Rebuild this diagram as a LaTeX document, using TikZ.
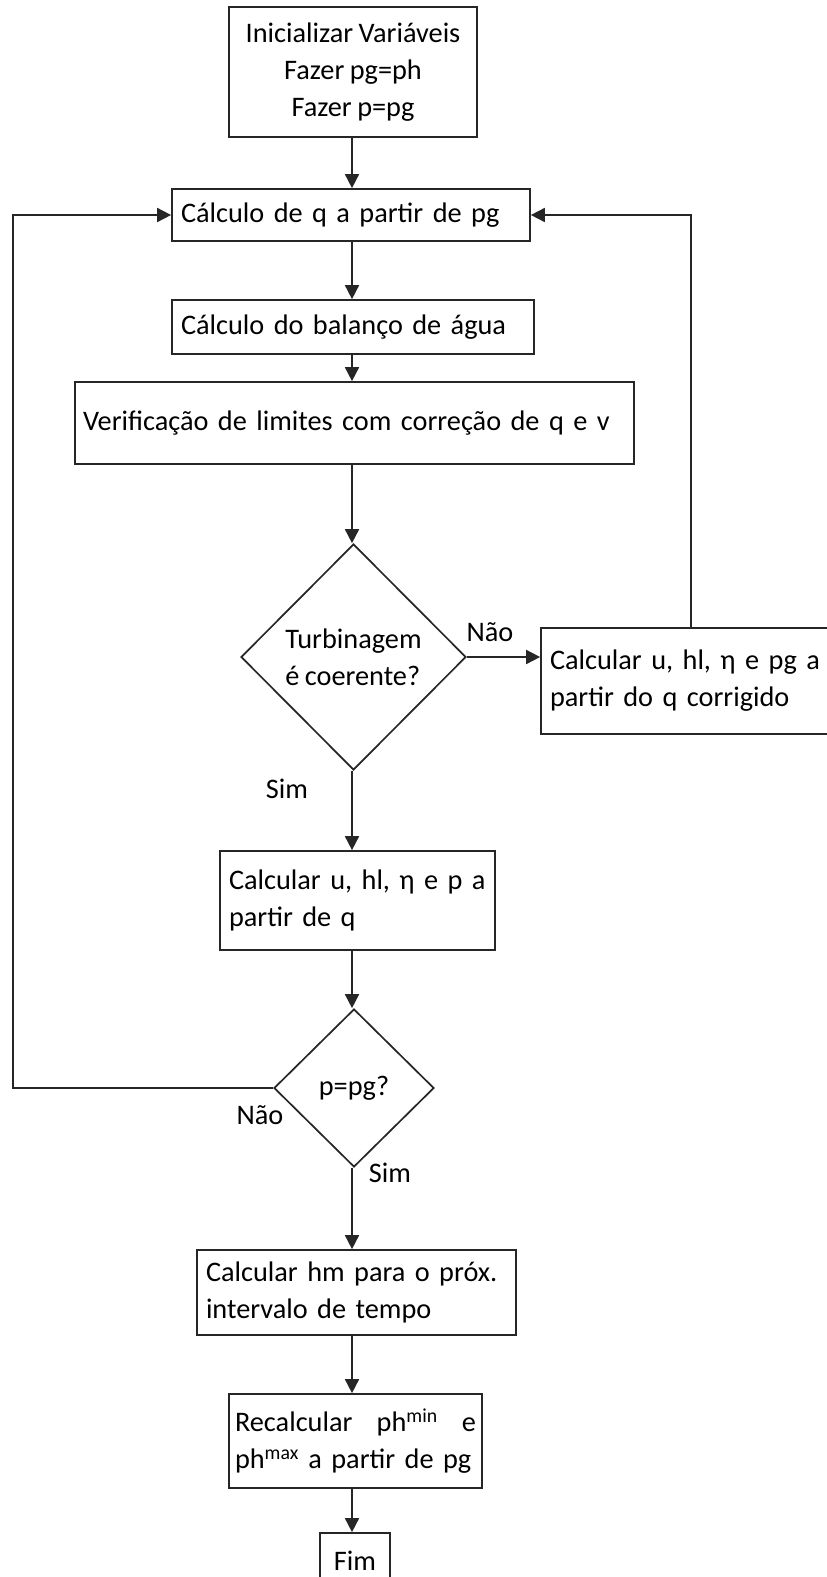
\documentclass[tikz,border=0pt]{standalone}
\usepackage{fontspec}
\setmainfont{Carlito}[WordSpace=0.85]
\usetikzlibrary{shapes.geometric,arrows.meta}

\newcommand{\chartfont}{\fontsize{28.3}{37}\selectfont}

\tikzset{
  line/.style={line width=1.7pt, draw=black!85},
  arr/.style={line, -{Triangle[length=14pt,width=14pt]}},
  box/.style={draw=black!85, line width=1.7pt, rectangle, inner ysep=0pt, font=\chartfont},
  lbox/.style={box, align=left, inner xsep=9pt},
  cbox/.style={box, align=center, inner xsep=0pt},
  decision/.style={draw=black!85, line width=1.7pt, diamond, inner sep=0pt, align=left, font=\chartfont},
  tag/.style={font=\chartfont, inner sep=0pt}
}

\begin{document}
\begin{tikzpicture}[x=1pt,y=-1pt]
\useasboundingbox (0,0) rectangle (827,1577);
\clip (0,0) rectangle (827,1577);
\fill[white] (0,0) rectangle (827,1577);

% flow column and loop-back rails
\coordinate (ax) at (352,0);
\coordinate (fb) at (691,0);
\coordinate (lx) at (13,600);

% process steps
\node[cbox, minimum width=248pt, minimum height=130pt] (b1) at (353,72)
  {Inicializar Variáveis\\Fazer pg=ph\\Fazer p=pg};
\node[lbox, minimum width=358pt, minimum height=52pt, text width=340pt] (b2) at (351,215)
  {Cálculo de q a partir de pg};
\node[lbox, minimum width=362pt, minimum height=54pt, text width=344pt] (b3) at (353,327)
  {Cálculo do balanço de água};
\node[lbox, minimum width=559pt, minimum height=82pt, text width=543pt, inner xsep=8pt] (b4) at (354.5,423)
  {Verificação de limites com correção de q e v};
\node[decision, minimum width=225pt, minimum height=226pt] (d1) at (353.5,657)
  {Turbinagem\\é coerente?};
\node[lbox, minimum width=330pt, minimum height=106pt, text width=312pt] (b5) at (706,681)
  {Calcular u, hl, η e pg a\\partir do q corrigido};
\node[lbox, minimum width=275pt, minimum height=99pt, text width=257pt] (b6) at (357.5,900.5)
  {Calcular u, hl, η e p a\\partir de q};
\node[decision, minimum width=160pt, minimum height=158pt] (d2) at (354,1088)
  {p=pg?};
\node[lbox, minimum width=319pt, minimum height=85pt, text width=301pt] (b7) at (356.5,1292.5)
  {Calcular hm para o próx.\\intervalo de tempo};
\node[lbox, minimum width=253pt, minimum height=94pt, text width=241pt, inner xsep=6pt] (b8) at (355.5,1441)
  {Recalcular\hfill ph\textsuperscript{min}\hfill e\\ph\textsuperscript{max} a partir de pg};
\node[cbox, minimum width=70pt, minimum height=56pt] (b9) at (355,1561) {Fim};

% branch labels
\node[tag] (n1) at (490,632) {Não};
\node[tag] (s1) at (287,789) {Sim};
\node[tag] (n2) at (260,1115) {Não};
\node[tag] (s2) at (390,1173) {Sim};

% main flow
\draw[arr] (b1.south -| ax) -- (b2.north -| ax);
\draw[arr] (b2.south -| ax) -- (b3.north -| ax);
\draw[arr] (b3.south -| ax) -- (b4.north -| ax);
\draw[arr] (b4.south -| ax) -- (d1.north -| ax);
\draw[arr] (d1.south -| ax) -- (b6.north -| ax);
\draw[arr] (b6.south -| ax) -- (d2.north -| ax);
\draw[arr] (d2.south -| ax) -- (b7.north -| ax);
\draw[arr] (b7.south -| ax) -- (b8.north -| ax);
\draw[arr] (b8.south -| ax) -- (b9.north -| ax);

% decision branches and loops
\draw[arr] (d1.east) -- (d1.east -| b5.west);
\draw[arr] (b5.north -| fb) |- (b2.east);
\draw[arr] (d2.west) -| (lx) |- (b2.west);
\end{tikzpicture}
\end{document}
